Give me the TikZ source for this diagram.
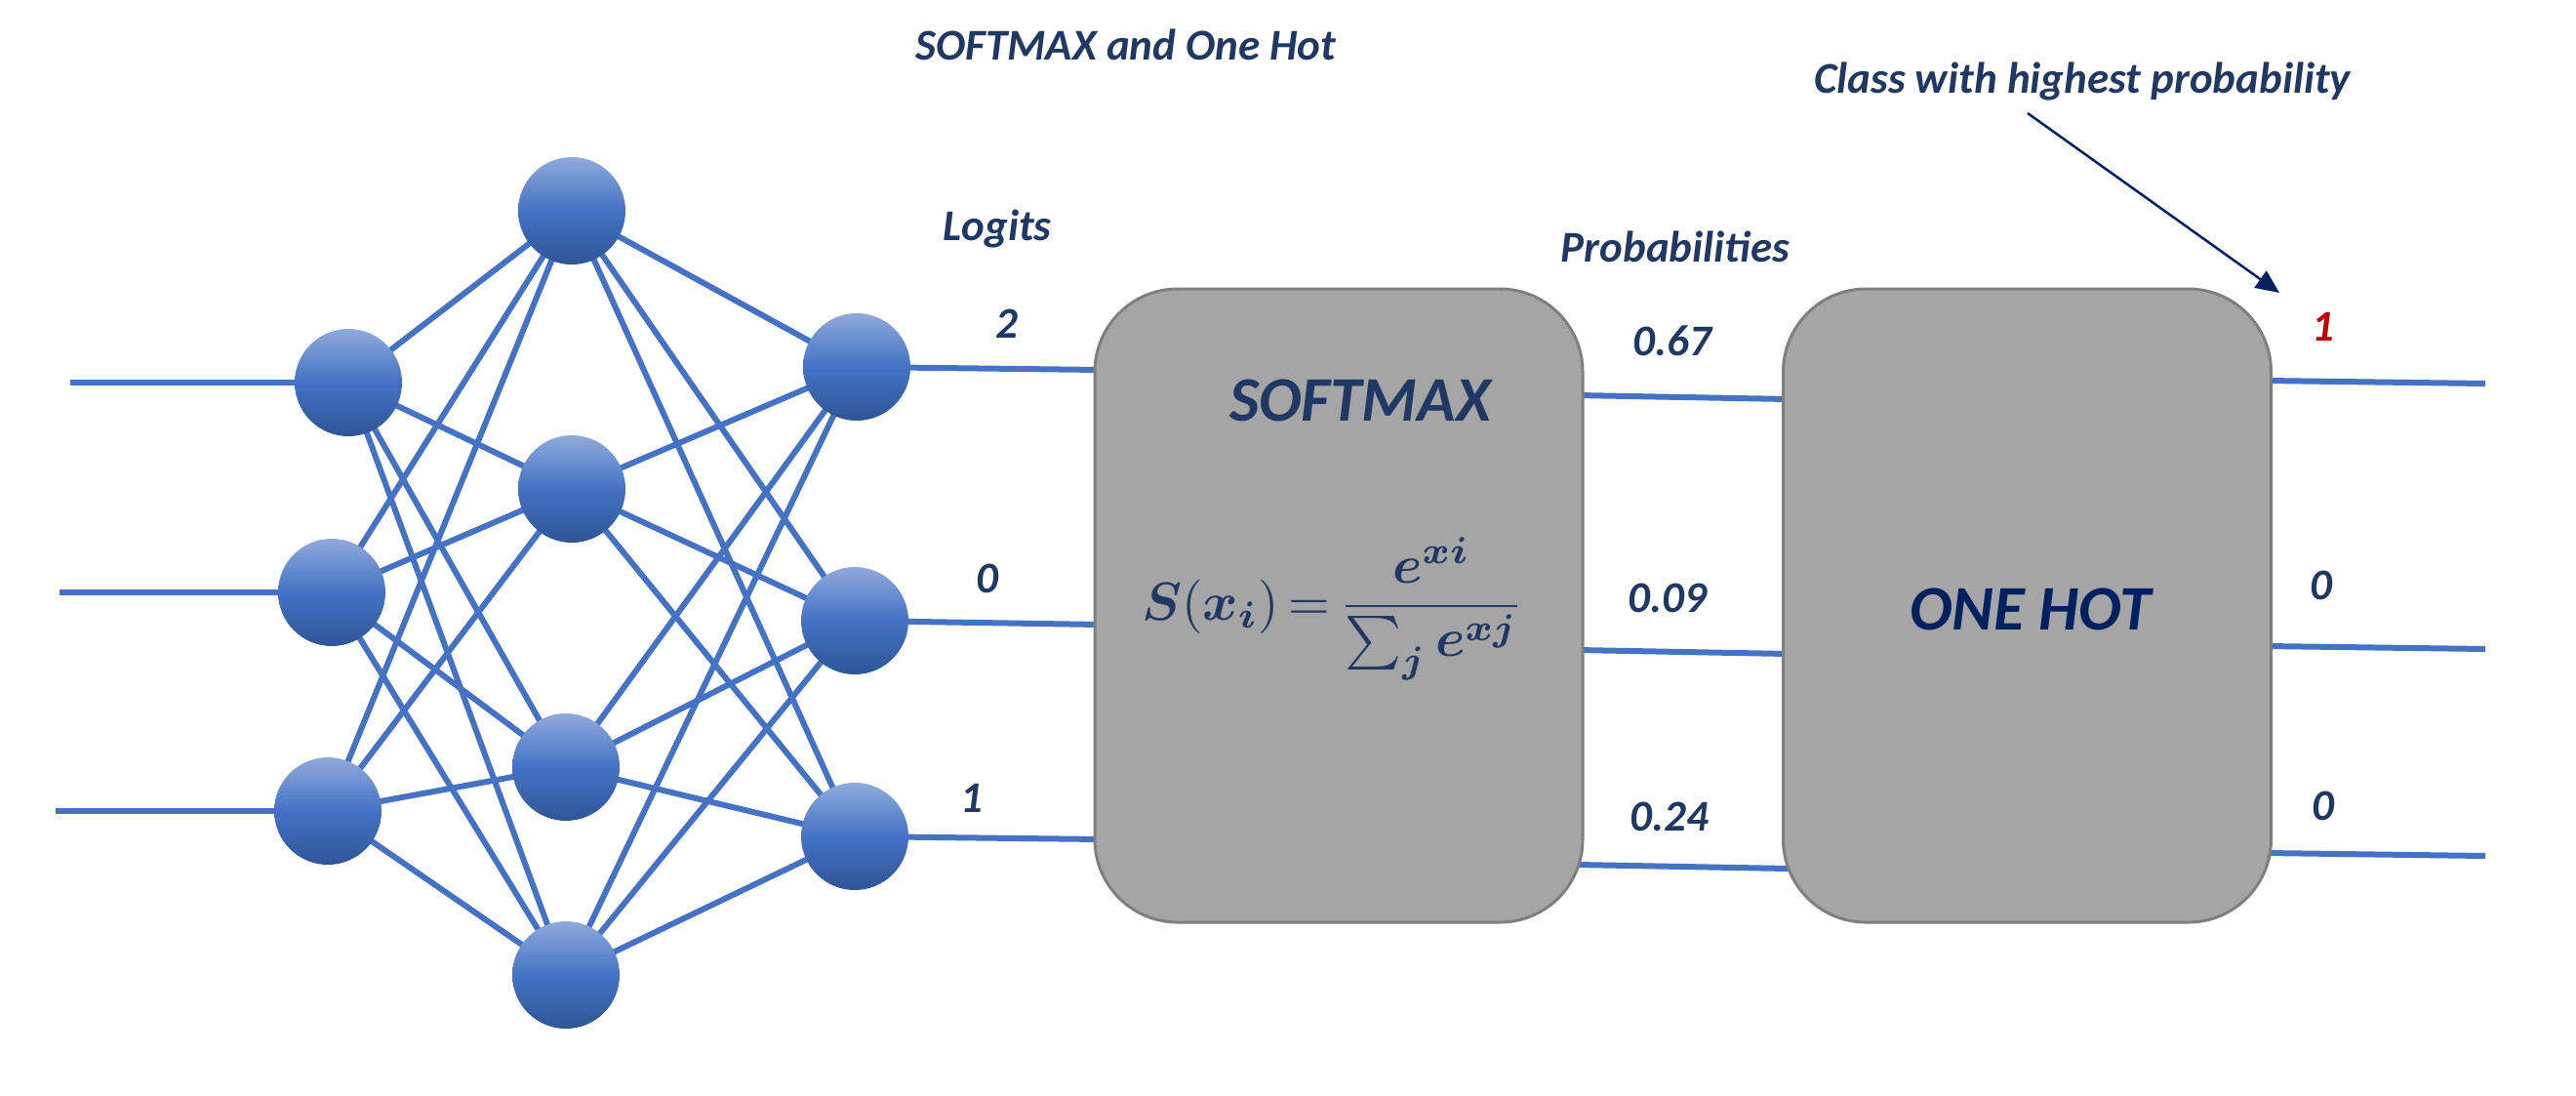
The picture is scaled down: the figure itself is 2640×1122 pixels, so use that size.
\documentclass[tikz,border=0pt]{standalone}
\usepackage{amsmath,bm}
\usepackage{graphicx}
\usepackage{fontspec}
\setmainfont{Carlito}
\usetikzlibrary{arrows.meta}
\definecolor{netblue}{HTML}{4472C4}
\definecolor{nodetop}{HTML}{8FAADC}
\definecolor{nodebot}{HTML}{2F5597}
\definecolor{txtnavy}{HTML}{1F3864}
\definecolor{darknavy}{HTML}{002060}
\definecolor{boxfill}{HTML}{A5A5A5}
\definecolor{boxline}{HTML}{7F7F7F}
\definecolor{hotred}{HTML}{C00000}
\pgfdeclarelayer{bg}
\pgfsetlayers{bg,main}
\begin{document}
\begin{tikzpicture}[x=1pt,y=-1pt,
  neuron/.style={circle, minimum size=110pt, inner sep=0pt, draw=none,
    top color=nodetop, bottom color=nodebot, middle color=netblue},
  wire/.style={draw=netblue, line width=6pt},
  lbl/.style={font=\fontsize{45}{54}\selectfont\bfseries\itshape, text=txtnavy, anchor=base, inner sep=0pt},
  blk/.style={rectangle, rounded corners=85pt, minimum width=500pt, minimum height=649pt,
    fill=boxfill, draw=boxline, line width=3pt},
  biglbl/.style={font=\fontsize{65}{78}\selectfont\bfseries\itshape, anchor=base, inner sep=0pt},
  pointer/.style={draw=darknavy, line width=2.5pt, -{Triangle[length=24pt,width=21pt]}}]
\begin{pgfonlayer}{bg}
\fill[white] (0,0) rectangle (2640,1122);
\end{pgfonlayer}
\useasboundingbox (0,0) rectangle (2640,1122);

% network nodes
\node[neuron] (a1) at (357,392) {};
\node[neuron] (a2) at (340,607) {};
\node[neuron] (a3) at (336,831) {};
\node[neuron] (b1) at (586,216) {};
\node[neuron] (b2) at (586,501) {};
\node[neuron] (b3) at (580,786) {};
\node[neuron] (b4) at (580,999) {};
\node[neuron] (c1) at (878,376) {};
\node[neuron] (c2) at (876,636) {};
\node[neuron] (c3) at (876,857) {};

% blocks
\node[blk] (softmax) at (1372,620.5) {};
\node[blk] (onehot) at (2077.5,620.5) {};
\node[biglbl, text=txtnavy] (softmaxlbl) at (1394,431) {SOFTMAX};
\node[biglbl, text=darknavy] (onehotlbl) at (2081,645) {ONE HOT};
\node[inner sep=0pt, text=txtnavy] (formula) at (1366,624)
  {\scalebox{5.5}{$\thickmuskip=3mu\displaystyle \bm{S}(\bm{x}_{\bm{i}}) = \frac{\bm{e}^{\bm{xi}}}{\sum_{\bm{j}}\bm{e}^{\bm{xj}}}$}};

% titles and labels
\node[lbl] (title) at (1154,61) {SOFTMAX and One Hot};
\node[lbl] (classlbl) at (2134,95) {Class with highest probability};
\node[lbl] (logits) at (1022,246) {Logits};
\node[lbl] (probs) at (1717,268) {Probabilities};
\node[lbl] (l2) at (1032,346) {2};
\node[lbl] (l0) at (1012,607) {0};
\node[lbl] (l1) at (996,832) {1};
\node[lbl] (p1) at (1714,364) {0.67};
\node[lbl] (p2) at (1709,627) {0.09};
\node[lbl] (p3) at (1711,851) {0.24};
\node[lbl, text=hotred] (o1) at (2381,349) {1};
\node[lbl] (o2) at (2379,614) {0};
\node[lbl] (o3) at (2381,840) {0};

% free ends
\coordinate (in1) at (72,392);
\coordinate (in2) at (61,607);
\coordinate (in3) at (57,831);
\coordinate (s1) at (1128,379);
\coordinate (s2) at (1128,640);
\coordinate (s3) at (1128,860);
\coordinate (so1) at (1616,405);
\coordinate (so2) at (1616,666);
\coordinate (so3) at (1616,886);
\coordinate (oi1) at (1833,409);
\coordinate (oi2) at (1833,670);
\coordinate (oi3) at (1833,890);
\coordinate (oo1) at (2322,390);
\coordinate (oo2) at (2322,662);
\coordinate (oo3) at (2322,874);
\coordinate (out1) at (2547,393);
\coordinate (out2) at (2547,665);
\coordinate (out3) at (2547,877);
\coordinate (arrA) at (2078,116);
\coordinate (arrB) at (2336,300);

\begin{pgfonlayer}{bg}
\draw[wire] (in1) -- (a1.center);
\draw[wire] (in2) -- (a2.center);
\draw[wire] (in3) -- (a3.center);
\foreach \s in {a1,a2,a3}
  \foreach \t in {b1,b2,b3,b4}
    \draw[wire] (\s.center) -- (\t.center);
\foreach \s in {b1,b2,b3,b4}
  \foreach \t in {c1,c2,c3}
    \draw[wire] (\s.center) -- (\t.center);
\draw[wire] (c1.center) -- (s1);
\draw[wire] (c2.center) -- (s2);
\draw[wire] (c3.center) -- (s3);
\draw[wire] (so1) -- (oi1);
\draw[wire] (so2) -- (oi2);
\draw[wire] (so3) -- (oi3);
\draw[wire] (oo1) -- (out1);
\draw[wire] (oo2) -- (out2);
\draw[wire] (oo3) -- (out3);
\end{pgfonlayer}

\draw[pointer] (arrA) -- (arrB);
\end{tikzpicture}
\end{document}
